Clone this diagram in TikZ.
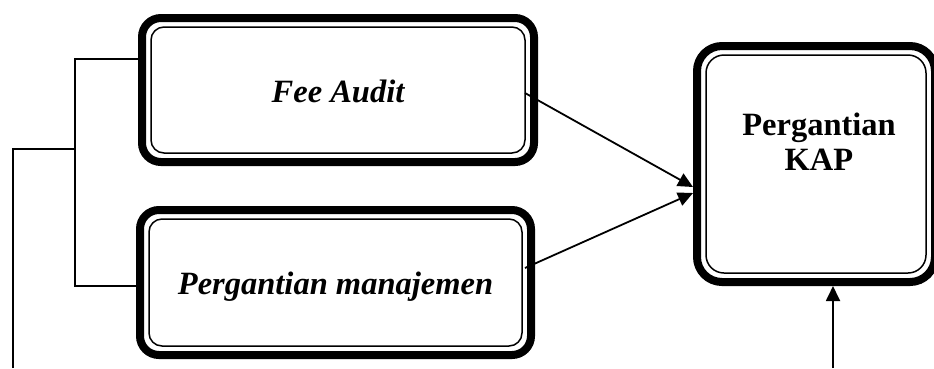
\documentclass[tikz,border=0pt]{standalone}
\usepackage{fontspec}
\setmainfont{Liberation Serif}
\usetikzlibrary{arrows.meta}
\begin{document}
\begin{tikzpicture}[x=1pt,y=-1pt,
  boxstyle/.style={draw, line width=8pt, outer sep=0pt, inner sep=0pt, rounded corners=19pt, fill=white},
  innerline/.style={line width=1.5pt, rounded corners=13pt},
  conn/.style={line width=1.8pt},
  arr/.style={conn, -{Triangle[length=15pt,width=14pt]}},
  lbl/.style={font=\fontsize{32.5}{36}\selectfont\bfseries\itshape, text height=24pt, text depth=0pt}
]
\useasboundingbox (0,0) rectangle (934,368);

% boxes
\node[boxstyle, minimum width=392pt, minimum height=144pt, lbl] (fa) at (338,90) {Fee Audit};
\draw[innerline] ([shift={(9pt,-9pt)}]fa.north west) rectangle ([shift={(-9pt,9pt)}]fa.south east);

\node[boxstyle, minimum width=391pt, minimum height=145pt, lbl] (pm) at (335.5,282.5) {Pergantian manajemen};
\draw[innerline] ([shift={(9pt,-9pt)}]pm.north west) rectangle ([shift={(-9pt,9pt)}]pm.south east);

\node[boxstyle, rounded corners=25pt, minimum width=238pt, minimum height=236pt] (kap) at (816,164) {};
\draw[innerline, rounded corners=18pt] ([shift={(9pt,-9pt)}]kap.north west) rectangle ([shift={(-9pt,9pt)}]kap.south east);
\node[font=\fontsize{32.5}{35}\selectfont\bfseries, align=center, inner sep=0pt] (kapt) at (819,142) {Pergantian\\KAP};

% arrows to KAP
\draw[arr] ([shift={(-9pt,-3pt)}]fa.east) -- ([shift={(-4pt,-23pt)}]kap.west);
\draw[arr] ([shift={(-6pt,14.5pt)}]pm.east) -- ([shift={(-4pt,-29pt)}]kap.west);

% bracket on the left
\coordinate (bt) at (75,59);
\coordinate (bb) at (75,286);
\coordinate (bm) at (75,149);
\coordinate (lm) at (13,149);
\coordinate (lb) at (13,368);
\draw[conn] (bt -| fa.west) -- (bt) -- (bb) -- (bb -| pm.west);
\draw[conn] (lb) -- (lm) -- (bm);

% arrow from below
\coordinate (rb) at (833,368);
\draw[arr, shorten >=4pt] (rb) -- (rb |- kap.south);
\end{tikzpicture}
\end{document}
